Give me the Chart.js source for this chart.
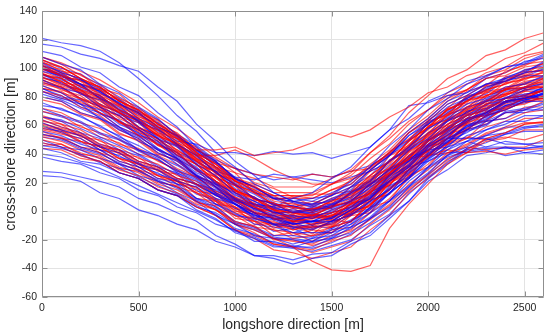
<!DOCTYPE html>
<html><head><meta charset="utf-8">
<script src="https://cdn.jsdelivr.net/npm/chart.js@4"></script>
<style>html,body{margin:0;padding:0;background:#fff;}#wrap{width:550px;height:336px;}</style>
</head><body><div id="wrap"><canvas id="c" width="550" height="336"></canvas></div>
<script>
const longshore = [0,100,200,300,400,500,600,700,800,900,1000,1100,1200,1300,1400,1500,1600,1700,1800,1900,2000,2100,2200,2300,2400,2500,2600];
const xTickValues = [0,500,1000,1500,2000,2500];
const yTickValues = [-60,-40,-20,0,20,40,60,80,100,120,140];

const b01 = [121,118,116,112,104,93,81,67,56,41,31,19,13,7,9,11,21,31,46,57,71,79,89,94,101,104,110];
const b02 = [117,115,110,107,102,98,87,77,61,49,35,25,13,7,3,9,15,29,39,53,63,75,81,89,93,99,102];
const b03 = [104,97,93,83,76,65,58,47,39,27,19,9,5,-1,1,3,13,21,35,45,58,65,75,79,87,89,95];
const b04 = [98,95,87,81,71,63,51,45,33,25,13,7,-1,-3,-5,1,7,19,29,43,51,63,69,77,79,85,85];
const b05 = [92,86,83,73,67,57,49,37,29,17,9,1,-3,-9,-7,-7,1,9,21,31,45,53,63,69,77,79,83];
const b06 = [88,83,75,71,61,55,44,37,25,17,5,-1,-9,-11,-13,-7,-3,7,15,29,39,51,57,67,71,77,77];
const b07 = [84,79,75,65,59,49,43,33,25,13,5,-5,-9,-15,-15,-15,-7,1,13,23,37,45,57,61,69,71,75];
const b08 = [100,96,89,84,75,69,59,53,43,35,23,17,9,7,5,11,17,29,39,53,61,73,79,87,91,97,99];
const b09 = [62,57,53,45,41,33,29,21,17,9,5,-3,-5,-11,-9,-7,1,9,23,33,47,55,65,69,77,79,83];
const b10 = [56,53,47,43,35,31,23,19,9,3,-7,-11,-17,-17,-19,-13,-9,3,13,27,37,49,55,63,65,71,71];
const b11 = [50,45,43,37,33,25,21,13,7,-3,-9,-17,-19,-23,-19,-17,-9,-1,13,23,35,43,53,57,63,63,67];
const b12 = [44,41,35,33,27,23,15,11,1,-5,-15,-19,-25,-25,-25,-19,-15,-5,3,17,27,39,45,53,55,59,59];
const b13 = [28,27,24,21,17,9,5,-1,-7,-17,-23,-31,-33,-37,-33,-31,-23,-17,-5,7,23,33,43,45,49,47,48];
const b14 = [25,24,21,13,9,1,-3,-9,-13,-21,-25,-31,-31,-34,-30,-29,-21,-15,-3,7,21,29,39,41,45,44,45];
const b15 = [38,35,33,27,23,15,11,3,-1,-9,-13,-21,-21,-25,-21,-19,-11,-5,7,17,31,39,49,53,59,59,61];
const b16 = [96,89,85,75,69,59,51,39,31,19,13,5,3,-1,3,5,13,19,29,35,43,45,49,45,45,41,43];
const b17 = [80,77,69,65,57,51,41,35,25,19,9,5,-1,-1,-1,5,9,19,25,37,43,51,51,51,47,47,45];
const b18 = [108,103,99,89,83,73,65,53,43,31,23,13,9,3,5,7,17,25,39,49,61,69,79,85,93,97,105];
const b19 = [66,63,55,51,43,39,31,27,19,15,7,5,3,9,13,23,31,45,57,74,76,81,83,89,91,95,95];
const b20 = [100,93,89,79,73,63,57,49,47,41,41,39,42,40,41,37,41,45,57,65,77,83,91,95,101,103,109];
const b21 = [72,67,63,55,51,43,39,29,23,13,7,-1,-5,-9,-7,-5,3,11,25,35,49,57,67,71,79,81,87];
const b22 = [90,87,79,73,63,57,47,41,29,21,9,3,-5,-5,-7,-1,3,15,25,39,47,59,65,75,79,87,89];
const b23 = [60,55,51,43,39,31,27,19,15,5,-1,-9,-11,-15,-11,-9,-1,7,21,31,43,51,59,63,69,69,73];
const b24 = [102,95,89,79,71,59,51,41,35,28,24,22,26,24,22,20,24,28,35,43,55,63,73,77,85,87,93];
const b25 = [54,51,45,41,33,29,21,17,9,5,-3,-5,-9,-7,-7,-1,3,13,21,31,35,41,41,43,39,41,40];
const b26 = [86,81,73,69,59,53,43,37,27,21,11,7,1,1,-1,3,7,17,25,39,49,61,67,75,77,81,79];
const b27 = [76,71,67,59,53,43,37,27,21,11,5,-3,-5,-9,-7,-5,3,9,21,29,41,49,59,65,73,77,83];
const b28 = [112,109,101,97,87,81,69,59,45,35,23,17,9,9,7,13,19,31,41,55,65,77,83,93,97,105,107];
const b29 = [48,45,39,35,27,23,15,11,3,-1,-9,-13,-19,-19,-21,-15,-11,-1,7,21,31,43,49,57,61,67,67];
const b30 = [64,59,55,47,43,35,31,23,19,11,7,-1,-3,-7,-3,-1,7,13,25,35,49,57,67,71,79,81,87];
const b31 = [94,90,82,78,68,62,52,46,34,28,16,10,2,0,-2,2,8,16,28,38,50,58,70,74,84,86,90];
const b32 = [58,56,48,46,38,34,26,22,12,8,-2,-6,-14,-12,-18,-12,-6,2,12,24,36,46,56,60,70,72,76];
const b33 = [86,80,78,68,64,54,48,38,30,20,12,4,0,-6,-4,-4,4,10,24,32,46,52,64,68,76,78,82];
const b34 = [70,66,62,54,50,42,36,28,22,12,6,-4,-6,-12,-10,-12,-2,2,18,24,40,48,60,64,74,76,80];
const b35 = [102,98,92,86,78,70,62,52,42,34,24,16,10,6,4,8,14,22,36,44,58,66,78,82,92,94,100];
const b36 = [40,38,34,30,24,18,12,6,0,-6,-14,-18,-24,-26,-28,-24,-20,-10,-2,12,24,34,44,48,54,56,56];
const b37 = [96,92,86,80,72,64,56,46,38,28,18,12,4,4,0,4,10,18,30,38,50,58,68,72,80,82,84];
const b38 = [66,64,58,52,46,40,32,26,18,12,2,-2,-10,-8,-12,-8,-2,6,16,28,40,50,60,66,74,78,82];
const b39 = [106,100,96,88,80,72,64,54,46,36,30,26,22,24,26,24,28,32,40,50,62,70,80,86,94,98,104];
const b40 = [52,50,44,40,34,28,22,16,8,2,-8,-12,-18,-20,-22,-18,-12,-4,8,18,30,38,42,44,44,44,46];
const b41 = [82,78,72,66,58,52,44,36,26,18,8,2,-4,-4,-8,-4,2,10,22,32,44,54,62,68,74,78,80];
const b42 = [74,72,66,60,52,46,38,32,24,16,8,2,-2,-4,-4,0,6,14,26,36,46,56,64,70,76,80,82];
const b43 = [100,94,92,84,76,68,60,50,40,30,20,14,6,2,2,4,12,20,32,42,54,64,72,78,86,90,94];
const b44 = [46,44,40,34,30,24,18,12,4,-2,-12,-16,-22,-24,-26,-22,-16,-8,2,14,26,36,44,50,54,58,60];

const r01 = [100,95,87,81,71,65,55,51,43,43,45,39,41,43,48,55,52,57,66,73,83,87,95,99,107,111,118];
const r02 = [106,101,93,87,77,71,59,51,39,31,21,17,11,11,11,19,27,41,53,69,81,93,99,109,113,121,125];
const r03 = [50,47,41,37,29,25,17,13,5,1,-7,-11,-19,-25,-35,-41,-42,-38,-12,5,19,33,41,51,55,61,62];
const r04 = [104,99,91,87,77,71,61,53,41,33,21,15,7,5,3,9,13,25,35,49,59,71,77,85,89,95,97];
const r05 = [98,93,85,81,71,65,55,47,35,27,15,9,1,-1,-3,3,9,21,31,45,55,67,73,81,85,91,93];
const r06 = [94,89,85,75,69,59,53,43,35,23,15,5,1,-5,-3,-1,7,15,29,39,53,61,71,77,85,87,91];
const r07 = [90,87,79,73,63,57,47,41,29,21,9,3,-5,-7,-9,-3,1,13,23,37,47,59,65,75,79,85,87];
const r08 = [102,95,91,81,75,65,59,47,39,27,19,9,5,-1,1,3,13,21,35,45,59,67,77,81,87,89,93];
const r09 = [96,93,85,79,69,63,53,47,35,27,15,9,1,-1,-5,-1,3,15,25,39,49,61,67,77,81,87,87];
const r10 = [88,83,79,69,63,53,47,37,29,17,9,-1,-5,-11,-11,-11,-3,5,19,29,43,51,63,69,77,79,85];
const r11 = [106,101,93,87,77,69,57,49,37,29,19,13,5,3,1,7,13,25,35,49,59,71,77,87,91,99,101];
const r12 = [92,87,83,73,67,57,51,41,33,21,13,3,-1,-7,-5,-3,5,13,27,37,49,57,67,71,79,81,85];
const r13 = [100,95,87,83,73,67,57,51,39,31,19,13,5,3,-1,3,7,19,29,43,53,65,71,81,85,93,95];
const r14 = [64,59,55,47,43,35,31,23,19,9,3,-5,-7,-13,-11,-9,-1,7,21,31,45,53,63,69,77,79,85];
const r15 = [60,57,49,45,37,33,25,21,13,7,-3,-7,-13,-15,-17,-11,-7,5,15,29,39,51,57,67,71,77,79];
const r16 = [56,51,49,41,37,29,25,17,13,3,-3,-11,-13,-19,-17,-15,-7,1,15,25,39,47,57,61,69,71,77];
const r17 = [52,49,43,39,31,27,19,15,7,1,-9,-13,-19,-21,-23,-17,-13,-1,9,23,33,45,51,59,63,69,71];
const r18 = [48,45,39,35,27,23,15,11,3,-3,-13,-17,-23,-25,-27,-21,-17,-5,5,19,29,41,47,55,59,65,65];
const r19 = [66,61,57,49,45,37,33,25,21,13,7,-1,-3,-7,-5,-3,5,13,27,37,51,59,69,75,83,87,93];
const r20 = [58,55,49,45,37,33,25,21,13,9,-1,-5,-11,-11,-13,-7,-3,9,19,33,43,55,61,69,73,79,79];
const r21 = [62,57,53,45,41,33,29,21,17,7,1,-7,-9,-13,-9,-7,1,9,21,29,39,41,45,43,45,45,50];
const r22 = [84,81,73,67,57,51,41,35,25,19,9,5,-1,-1,-3,3,7,19,27,37,39,43,41,42,40,43,44];
const r23 = [108,103,95,89,79,73,61,53,41,33,23,19,13,13,13,19,25,37,47,61,71,83,89,97,101,109,112];
const r24 = [100,97,89,85,75,69,59,53,41,33,21,15,9,9,9,15,21,33,43,57,67,79,85,93,97,103,105];
const r25 = [96,91,83,79,69,63,53,47,37,31,21,17,11,11,9,15,19,31,41,55,63,75,81,89,91,97,99];
const r26 = [92,87,79,75,65,59,49,43,33,25,13,9,3,3,1,7,11,23,33,47,57,69,75,83,85,89,89];
const r27 = [96,91,83,77,69,63,53,47,39,39,43,37,29,23,19,19,23,31,41,51,61,71,79,85,89,93,97];
const r28 = [86,83,75,69,59,53,43,37,25,17,5,-1,-9,-11,-15,-11,-7,5,15,29,39,51,57,67,71,77,79];
const r29 = [54,51,45,41,33,29,21,17,7,1,-9,-15,-23,-25,-29,-25,-21,-9,1,15,25,37,43,51,55,61,63];
const r30 = [70,67,59,55,47,43,35,29,19,13,3,-1,-9,-9,-11,-5,-1,11,21,35,45,57,63,73,77,85,87];
const r31 = [102,97,89,85,75,69,59,53,43,37,27,23,17,17,17,23,29,41,51,63,71,81,85,93,95,101,103];
const r32 = [44,43,37,35,27,23,15,11,3,-3,-13,-19,-27,-29,-33,-29,-25,-13,-3,13,23,35,41,49,51,57,57];
const r33 = [80,77,69,65,55,49,39,33,23,17,7,3,-3,-3,-5,1,5,17,27,41,51,63,69,77,81,87,87];
const r34 = [104,101,93,87,77,71,61,55,43,35,23,17,9,7,5,11,17,29,39,55,65,77,85,95,99,107,111];
const r35 = [97,90,88,79,74,62,57,45,37,24,18,4,2,-6,-2,-4,8,12,30,36,55,60,73,76,86,86,92];
const r36 = [93,91,82,78,66,62,50,46,32,28,14,10,-2,2,-4,4,6,20,26,42,50,64,68,80,82,90,90];
const r37 = [101,94,92,82,78,66,62,48,42,26,22,8,6,-2,2,2,14,18,36,42,60,64,78,80,90,92,98];
const r38 = [89,86,78,74,62,58,46,42,28,24,10,6,-6,-2,-10,-2,-2,14,18,36,42,58,62,74,76,84,84];
const r39 = [105,98,96,86,82,70,64,54,44,34,30,26,24,22,26,24,28,30,40,46,62,68,80,84,94,96,104];
const r40 = [95,93,84,80,70,64,54,48,36,30,18,14,4,6,0,8,10,24,30,46,54,68,72,84,86,94,94];
const r41 = [63,61,52,50,40,38,28,26,14,12,0,-2,-12,-8,-16,-6,-8,8,12,30,38,54,58,70,72,80,80];
const r42 = [57,54,51,43,41,31,29,19,17,5,3,-9,-9,-17,-13,-15,-3,-1,17,23,41,47,61,63,73,75,81];
const r43 = [53,52,45,43,35,31,23,21,9,7,-5,-7,-17,-15,-21,-13,-11,3,7,25,31,47,51,63,65,73,73];
const r44 = [59,56,53,45,43,35,31,23,19,11,5,-1,-5,-9,-7,-11,1,3,21,27,45,51,65,67,77,79,85];
const r45 = [67,63,60,52,48,40,36,28,24,14,10,2,0,-4,-2,-6,6,8,26,32,50,56,70,72,82,84,90];
const r46 = [46,47,40,38,30,28,20,18,6,4,-8,-10,-20,-20,-24,-20,-14,-6,4,16,26,40,46,54,58,62,62];
const r47 = [84,79,77,69,63,53,49,39,33,21,15,7,3,-3,-1,-5,5,9,25,31,47,53,65,69,75,79,81];
const r48 = [99,96,88,84,74,68,58,52,40,34,22,18,8,10,4,12,14,28,34,50,58,72,76,88,90,98,98];
const r49 = [103,97,93,85,79,69,63,51,45,31,27,13,11,3,7,5,17,21,39,45,63,67,81,83,93,95,101];
const r50 = [91,85,81,71,67,55,51,39,33,19,15,1,1,-7,-3,-7,3,7,23,29,47,51,65,67,77,79,85];
const r51 = [86,84,76,72,62,56,46,40,30,24,14,10,2,4,0,6,10,22,30,44,52,64,70,78,82,86,88];
const r52 = [61,58,54,46,42,34,30,22,16,8,2,-4,-8,-10,-12,-8,-2,4,16,26,38,48,58,64,72,76,78];
const r53 = [94,88,84,74,70,58,54,42,36,24,18,8,6,0,2,4,12,18,30,36,46,48,52,50,52,50,54];
const r54 = [72,69,62,58,50,44,38,30,24,14,8,0,-4,-8,-6,-10,0,4,20,26,42,48,62,66,76,80,86];
const r55 = [108,104,98,92,84,76,66,58,48,38,30,20,16,10,12,12,22,28,42,50,64,72,84,88,98,102,108];
const r56 = [78,75,68,64,54,50,40,36,24,20,8,4,-6,-4,-10,-4,0,12,18,34,42,56,62,72,76,82,84];

const blueSeries = [b01,b02,b03,b04,b05,b06,b07,b08,b09,b10,b11,b12,b13,b14,b15,b16,b17,b18,b19,b20,b21,b22,b23,b24,b25,b26,b27,b28,b29,b30,b31,b32,b33,b34,b35,b36,b37,b38,b39,b40,b41,b42,b43,b44];
const redSeries = [r01,r02,r03,r04,r05,r06,r07,r08,r09,r10,r11,r12,r13,r14,r15,r16,r17,r18,r19,r20,r21,r22,r23,r24,r25,r26,r27,r28,r29,r30,r31,r32,r33,r34,r35,r36,r37,r38,r39,r40,r41,r42,r43,r44,r45,r46,r47,r48,r49,r50,r51,r52,r53,r54,r55,r56];

const BLUE = 'rgba(0,0,255,0.6)';
const RED = 'rgba(255,0,0,0.62)';

function toPoints(vals){ return vals.map((v,i)=>({x:longshore[i], y:v})); }
function mk(vals,color){ return {data:toPoints(vals), borderColor:color, borderWidth:1.2, pointRadius:0, tension:0, fill:false}; }

const datasets = [];
const n = Math.max(blueSeries.length, redSeries.length);
for (let i=0;i<n;i++){
  if (i<redSeries.length) datasets.push(mk(redSeries[i],RED));
  if (i<blueSeries.length) datasets.push(mk(blueSeries[i],BLUE));
}

const frame = {
  id:'frame',
  afterDatasetsDraw(chart){
    const {ctx, chartArea:{left,top,right,bottom}, scales:{x,y}} = chart;
    ctx.save();
    ctx.strokeStyle = '#8f8f8f'; ctx.lineWidth = 1;
    const L = Math.round(left)+0.5, R = Math.round(right)-0.5, T = Math.round(top)+0.5, B = Math.round(bottom)-0.5;
    ctx.beginPath();
    ctx.rect(L, T, R-L, B-T);
    xTickValues.forEach(v=>{ const p=Math.round(x.getPixelForValue(v))+0.5; ctx.moveTo(p,B); ctx.lineTo(p,B-5); ctx.moveTo(p,T); ctx.lineTo(p,T+5); });
    yTickValues.forEach(v=>{ const p=Math.round(y.getPixelForValue(v))+0.5; ctx.moveTo(L,p); ctx.lineTo(L+5,p); ctx.moveTo(R,p); ctx.lineTo(R-5,p); });
    ctx.stroke();
    ctx.restore();
  }
};

const FONT = 'Liberation Sans, Arial, sans-serif';
new Chart(document.getElementById('c'), {
  type:'line',
  data:{datasets},
  options:{
    responsive:false, animation:false, devicePixelRatio:1,
    layout:{padding:{top:11,right:6,left:0,bottom:0}},
    plugins:{legend:{display:false}, tooltip:{enabled:false}},
    scales:{
      x:{type:'linear', min:0, max:2600,
        afterBuildTicks:s=>{ s.ticks = xTickValues.map(v=>({value:v})); },
        afterFit:s=>{ s.height = 39; },
        grid:{color:'#e3e3e3', drawTicks:false},
        border:{display:false},
        ticks:{padding:5, color:'#262626', maxRotation:0, callback:v=>String(v), font:{family:FONT, size:10.5}},
        title:{display:true, text:'longshore direction [m]', color:'#262626', padding:{top:0,bottom:2.6}, font:{family:FONT, size:14}}
      },
      y:{type:'linear', min:-60, max:140,
        afterBuildTicks:s=>{ s.ticks = yTickValues.map(v=>({value:v})); },
        afterFit:s=>{ s.width = 42; },
        grid:{color:'#e3e3e3', drawTicks:false},
        border:{display:false},
        ticks:{padding:5, color:'#262626', callback:v=>String(v), font:{family:FONT, size:10.5}},
        title:{display:true, text:'cross-shore direction [m]', color:'#262626', padding:{top:2.6,bottom:0}, font:{family:FONT, size:14}}
      }
    }
  },
  plugins:[frame]
});
</script>
</body></html>
